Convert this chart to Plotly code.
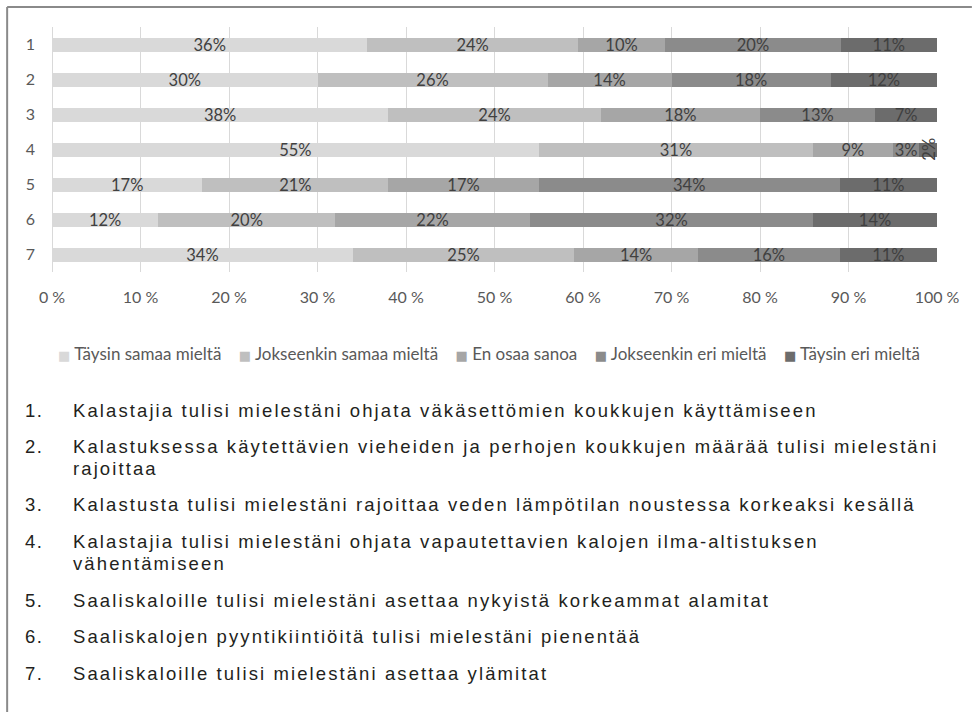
import plotly.graph_objects as go

# ---------------- data ----------------
categories = ["1", "2", "3", "4", "5", "6", "7"]
series_names = ["Täysin samaa mieltä", "Jokseenkin samaa mieltä", "En osaa sanoa",
                "Jokseenkin eri mieltä", "Täysin eri mieltä"]
taysin_samaa = [36, 30, 38, 55, 17, 12, 34]
jokseenkin_samaa = [24, 26, 24, 31, 21, 20, 25]
en_osaa_sanoa = [10, 14, 18, 9, 17, 22, 14]
jokseenkin_eri = [20, 18, 13, 3, 34, 32, 16]
taysin_eri = [11, 12, 7, 2, 11, 14, 11]
x_tick_values = [0, 10, 20, 30, 40, 50, 60, 70, 80, 90, 100]
x_tick_labels = ["0 %", "10 %", "20 %", "30 %", "40 %", "50 %", "60 %", "70 %", "80 %", "90 %", "100 %"]
statement_numbers = ["1.", "2.", "3.", "4.", "5.", "6.", "7."]
statements = [
    ["Kalastajia tulisi mielestäni ohjata väkäsettömien koukkujen käyttämiseen"],
    ["Kalastuksessa käytettävien vieheiden ja perhojen koukkujen määrää tulisi mielestäni", "rajoittaa"],
    ["Kalastusta tulisi mielestäni rajoittaa veden lämpötilan noustessa korkeaksi kesällä"],
    ["Kalastajia tulisi mielestäni ohjata vapautettavien kalojen ilma-altistuksen", "vähentämiseen"],
    ["Saaliskaloille tulisi mielestäni asettaa nykyistä korkeammat alamitat"],
    ["Saaliskalojen pyyntikiintiöitä tulisi mielestäni pienentää"],
    ["Saaliskaloille tulisi mielestäni asettaa ylämitat"],
]

series_values = [taysin_samaa, jokseenkin_samaa, en_osaa_sanoa, jokseenkin_eri, taysin_eri]
colors = ["#d9d9d9", "#bfbfbf", "#a6a6a6", "#8b8b8b", "#6c6c6c"]

# ---------------- layout geometry (pixels) ----------------
W, H = 972, 712
PL, PR, PT, PB = 52, 940, 27, 272  # plot area in pixels


def px_x(p):
    return (p - PL) / (PR - PL)


def px_y(p):
    return (PB - p) / (PB - PT)


CHART_FONT = "Lato, 'Open Sans', sans-serif"
NOTE_FONT = "'Liberation Sans', Arial, sans-serif"

fig = go.Figure()

row_totals = [sum(v[i] for v in series_values) for i in range(len(categories))]
small_labels = []
for s, (name, vals, col) in enumerate(zip(series_names, series_values, colors)):
    texts = []
    for i, v in enumerate(vals):
        if v < 3:
            texts.append("")
            before = sum(series_values[k][i] for k in range(s))
            small_labels.append((i, (before + v / 2) / row_totals[i] * 100, f"{v}%"))
        else:
            texts.append(f"{v}%")
    fig.add_trace(go.Bar(
        y=categories, x=vals, name=name, orientation="h",
        marker=dict(color=col, line=dict(width=0)),
        text=texts, textposition="inside", insidetextanchor="middle",
        textangle=0, constraintext="none",
        textfont=dict(family=CHART_FONT, size=16.5, color="#404040"),
        hoverinfo="skip", showlegend=False,
    ))

annotations = []
for idx, xpos, txt in small_labels:
    annotations.append(dict(
        x=xpos, y=idx, xref="x", yref="y", text=txt, showarrow=False,
        textangle=-90, font=dict(family=CHART_FONT, size=16.5, color="#404040"),
        xanchor="center", yanchor="middle",
    ))

# legend (one line, markers right before the labels)
legend_text = "\u00a0\u00a0\u00a0\u00a0".join(
    f"<span style=\"color:{c};font-family:'DejaVu Sans';font-size:13px\">■</span>\u00a0{n}"
    for n, c in zip(series_names, colors)
)
annotations.append(dict(
    x=px_x(490), y=px_y(353), xref="paper", yref="paper", text=legend_text,
    showarrow=False, xanchor="center", yanchor="middle",
    font=dict(family=CHART_FONT, size=17, color="#595959"),
))

# statements below the chart
item_centers = [410, 446.5, 505, 541.5, 600, 636.5, 673]
WRAP = 21.5
for num, lines, yc in zip(statement_numbers, statements, item_centers):
    annotations.append(dict(
        x=px_x(23), y=px_y(yc), xref="paper", yref="paper",
        text=f"<span style='letter-spacing:1.5px'>{num}</span>", showarrow=False,
        xanchor="left", yanchor="middle", align="left",
        font=dict(family=NOTE_FONT, size=18.5, color="#231f20"),
    ))
    for j, ln in enumerate(lines):
        annotations.append(dict(
            x=px_x(71), y=px_y(yc + j * WRAP), xref="paper", yref="paper",
            text=f"<span style='letter-spacing:2.1px'>{ln}</span>",
            showarrow=False,
            xanchor="left", yanchor="middle", align="left",
            font=dict(family=NOTE_FONT, size=18.5, color="#231f20"),
        ))

shapes = [
    dict(type="line", xref="paper", yref="paper", x0=px_x(7), x1=px_x(975), y0=px_y(7), y1=px_y(7),
         line=dict(color="#8a8a8a", width=2)),
    dict(type="line", xref="paper", yref="paper", x0=px_x(7), x1=px_x(7), y0=px_y(7), y1=px_y(715),
         line=dict(color="#8a8a8a", width=2)),
]

fig.update_layout(
    width=W, height=H,
    margin=dict(l=PL, r=W - PR, t=PT, b=H - PB, pad=0),
    barmode="stack", barnorm="percent", bargap=0.6,
    paper_bgcolor="white", plot_bgcolor="white",
    font=dict(family=CHART_FONT, color="#595959", size=16),
    xaxis=dict(
        range=[0, 100], tickvals=x_tick_values, ticktext=x_tick_labels,
        showgrid=True, gridcolor="#d9d9d9", gridwidth=1,
        zeroline=True, zerolinecolor="#d9d9d9", zerolinewidth=1,
        showline=False, ticks="", ticklabelstandoff=14,
        tickfont=dict(family=CHART_FONT, size=16, color="#595959"),
        fixedrange=True,
    ),
    yaxis=dict(
        type="category", categoryorder="array", categoryarray=categories, autorange="reversed",
        showgrid=False, zeroline=False, showline=False, ticks="", ticklabelstandoff=16,
        tickfont=dict(family=CHART_FONT, size=16, color="#595959"),
        fixedrange=True,
    ),
    annotations=annotations,
    shapes=shapes,
    showlegend=False,
)

fig.write_html("out.html", config={"displayModeBar": False},
               post_script="document.body.style.margin='0px';")
